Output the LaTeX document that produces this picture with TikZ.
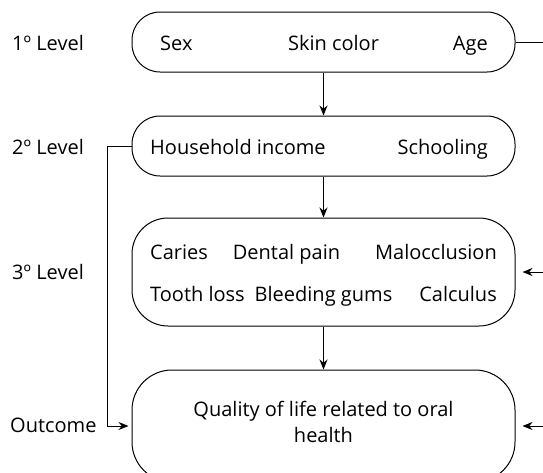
\documentclass[tikz,border=0pt]{standalone}
\usepackage{fontspec}
\setmainfont{Open Sans}
\usetikzlibrary{arrows.meta}
\begin{document}
\begin{tikzpicture}[x=1pt,y=-1pt,
  font=\fontsize{20}{23}\selectfont,
  lvlbox/.style={draw, rounded corners=28pt, minimum width=383pt, line width=1pt, inner sep=0pt},
  ltxt/.style={anchor=base west, inner sep=0pt},
  rtxt/.style={anchor=base east, inner sep=0pt},
  ctxt/.style={anchor=base, inner sep=0pt},
  conn/.style={line width=1pt},
  arr/.style={conn, -{Stealth[length=10pt,width=8pt]}}]
\useasboundingbox (0,0) rectangle (543,472);
\clip (0,0) rectangle (543,472);
% boxes
\node[lvlbox, minimum height=60pt] (b1) at (323.5,42) {};
\node[lvlbox, minimum height=60pt] (b2) at (323.5,146) {};
\node[lvlbox, minimum height=108pt, rounded corners=36pt] (b3) at (323.5,272) {};
\node[lvlbox, minimum height=112pt, rounded corners=40pt] (b4) at (323.5,426) {};
% level labels
\node[ltxt] (l1) at (12,50) {1º Level};
\node[ltxt] (l2) at (12,154) {2º Level};
\node[ltxt] (l3) at (12,279) {3º Level};
\node[ltxt] (l4) at (10,432) {Outcome};
% box texts
\node[ltxt] (sex) at (160,50) {Sex};
\node[ctxt] (skin) at (333.5,50) {Skin color};
\node[rtxt] (age) at (488,50) {Age};
\node[ltxt] (inc) at (150,154) {Household income};
\node[rtxt] (sch) at (488,154) {Schooling};
\node[ltxt] (car) at (150,259) {Caries};
\node[ctxt] (dp) at (286.5,259) {Dental pain};
\node[rtxt] (mal) at (497,259) {Malocclusion};
\node[ltxt] (tl) at (150,301) {Tooth loss};
\node[ctxt] (bg) at (323.5,301) {Bleeding gums};
\node[rtxt] (calc) at (497,301) {Calculus};
\node[ctxt] (q1) at (323.5,416) {Quality of life related to oral};
\node[ctxt] (q2) at (323.5,442) {health};
% free ends
\coordinate (e1) at (545,42);
\coordinate (e3) at (545,272);
\coordinate (e4) at (545,426);
\coordinate (k1) at (107,146);
\coordinate (k2) at (107,426);
% connectors
\draw[arr] (b1.south) -- (b2.north);
\draw[arr] (b2.south) -- (b3.north);
\draw[arr] (b3.south) -- (b4.north);
\draw[conn] (b1.east) -- (e1);
\draw[arr, shorten >=7pt] (e3) -- (b3.east);
\draw[arr, shorten >=7pt] (e4) -- (b4.east);
\draw[arr, shorten >=3pt] (b2.west) -- (k1) -- (k2) -- (b4.west);
\end{tikzpicture}
\end{document}
